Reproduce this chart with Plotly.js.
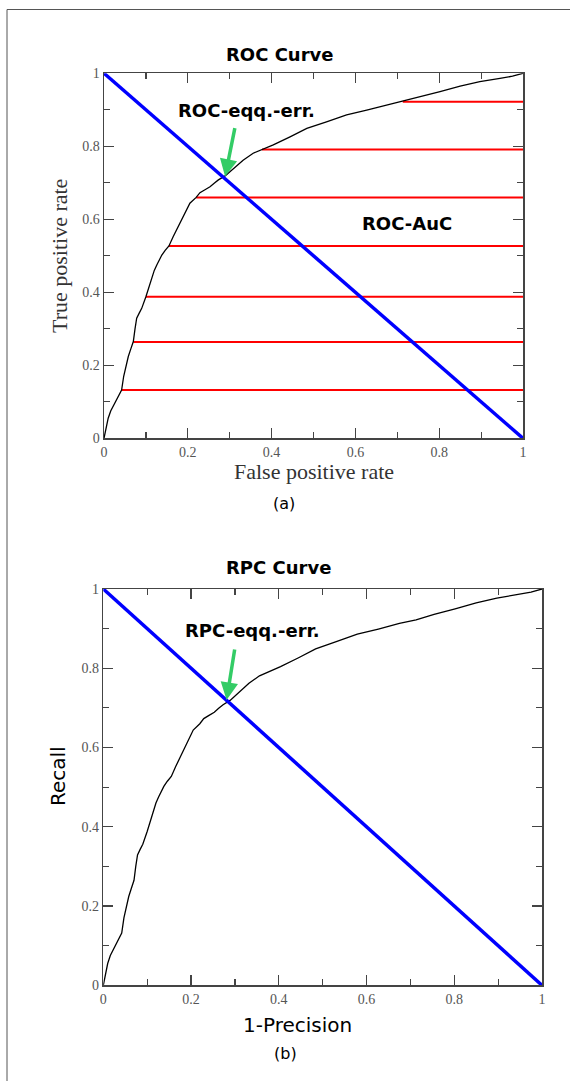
<!DOCTYPE html>
<html>
<head>
<meta charset="utf-8">
<script src="https://cdn.plot.ly/plotly-3.0.1.min.js"></script>
<style>
html,body{margin:0;padding:0;background:#fff;}
#chart{width:570px;height:1081px;}
</style>
</head>
<body>
<div id="chart"></div>
<script>
// ---- data ----
const curveX = [0, 0.004, 0.010, 0.016, 0.022, 0.028, 0.035, 0.042, 0.047, 0.052, 0.058, 0.064, 0.070, 0.074, 0.078, 0.084, 0.090, 0.100, 0.107, 0.114, 0.120, 0.126, 0.132, 0.138, 0.146, 0.155, 0.165, 0.173, 0.181, 0.193, 0.205, 0.220, 0.229, 0.241, 0.253, 0.263, 0.273, 0.289, 0.309, 0.332, 0.356, 0.379, 0.404, 0.444, 0.484, 0.531, 0.579, 0.627, 0.675, 0.713, 0.754, 0.802, 0.850, 0.897, 0.945, 0.975, 1.0];
const curveY = [0, 0.025, 0.055, 0.075, 0.088, 0.100, 0.115, 0.132, 0.170, 0.195, 0.224, 0.245, 0.265, 0.300, 0.329, 0.343, 0.356, 0.388, 0.415, 0.443, 0.460, 0.475, 0.490, 0.502, 0.515, 0.527, 0.552, 0.570, 0.589, 0.616, 0.644, 0.660, 0.673, 0.681, 0.689, 0.699, 0.708, 0.719, 0.740, 0.762, 0.781, 0.792, 0.804, 0.826, 0.849, 0.867, 0.886, 0.899, 0.913, 0.922, 0.936, 0.950, 0.965, 0.977, 0.986, 0.992, 1.0];
const rocX = curveX, rocY = curveY;   // ROC curve (a)
const rpcX = curveX, rpcY = curveY;   // RPC curve (b)
const aucLevels = [0.132, 0.264, 0.388, 0.527, 0.660, 0.791, 0.922];
const aucStartX = [0.042, 0.070, 0.100, 0.155, 0.220, 0.377, 0.713];
const diagX = [0, 1];
const diagY = [1, 0];
const rocEqErr = {tip:[0.289, 0.717], tail:[0.313, 0.854]};
const rpcEqErr = {tip:[0.281, 0.720], tail:[0.300, 0.851]};
const tickVals = [0, 0.2, 0.4, 0.6, 0.8, 1];
const tickText = ['0', '0.2', '0.4', '0.6', '0.8', '1'];

// ---- traces ----
const traces = [];
aucLevels.forEach((lv, i) => {
  traces.push({x:[aucStartX[i], 1], y:[lv, lv], xaxis:'x', yaxis:'y', mode:'lines',
    line:{color:'#ff0000', width:2}, hoverinfo:'skip', showlegend:false});
});
traces.push({x:rocX, y:rocY, xaxis:'x', yaxis:'y', mode:'lines',
  line:{color:'#000', width:1.3}, showlegend:false});
traces.push({x:diagX, y:diagY, xaxis:'x', yaxis:'y', mode:'lines',
  line:{color:'#0000ff', width:3.5}, showlegend:false});
traces.push({x:rpcX, y:rpcY, xaxis:'x2', yaxis:'y2', mode:'lines',
  line:{color:'#000', width:1.3}, showlegend:false});
traces.push({x:diagX, y:diagY, xaxis:'x2', yaxis:'y2', mode:'lines',
  line:{color:'#0000ff', width:3.5}, showlegend:false});

// ---- axes ----
const W = 570, H = 1081;
function px2x(p){ return p / W; }
function px2y(p){ return 1 - p / H; }
function axis(domain, anchor){
  return {domain:domain, anchor:anchor, range:[0,1], tickmode:'array', tickvals:tickVals, ticktext:tickText,
    ticks:'inside', ticklen:10, tickwidth:1.2, tickcolor:'#444',
    showline:true, linecolor:'#444', linewidth:1.5, mirror:'ticks',
    showgrid:false, zeroline:false, fixedrange:true,
    tickfont:{family:'Liberation Serif, serif', size:14, color:'#555'},
    ticklabelstandoff:0,
    minor:{tickvals:[0.1,0.3,0.5,0.7,0.9], ticks:'inside', ticklen:6, tickwidth:1.2, tickcolor:'#444', showgrid:false}};
}
const bold = {family:'DejaVu Sans, sans-serif', size:18, color:'#000', weight:'bold'};
const sans = {family:'DejaVu Sans, sans-serif', size:20, color:'#000'};
const serifX = {family:'Liberation Serif, serif', size:22, color:'#333'};
const serifY = {family:'Liberation Serif, serif', size:22, color:'#333'};
const small = {family:'DejaVu Sans, sans-serif', size:16, color:'#000'};

function note(text, xref, yref, x, y, font, extra){
  return Object.assign({text:text, xref:xref, yref:yref, x:x, y:y, showarrow:false, font:font,
    xanchor:'center', yanchor:'middle'}, extra || {});
}

const layout = {
  width:W, height:H, margin:{l:0, r:0, t:0, b:0},
  paper_bgcolor:'#fff', plot_bgcolor:'#fff', showlegend:false,
  xaxis: axis([px2x(104), px2x(523)], 'y'),
  yaxis: axis([px2y(438.3), px2y(73.3)], 'x'),
  xaxis2: axis([px2x(103.3), px2x(542)], 'y2'),
  yaxis2: axis([px2y(985.3), px2y(589)], 'x2'),
  shapes:[
    {type:'rect', xref:'paper', yref:'paper', x0:px2x(7), x1:1.05, y0:-0.05, y1:px2y(9.5),
     line:{color:'#555', width:1}, fillcolor:'rgba(0,0,0,0)', layer:'below'}
  ],
  annotations:[
    note('<b>ROC Curve</b>', 'paper', 'paper', px2x(279), px2y(54), bold),
    note('<b>ROC-eqq.-err.</b>', 'x', 'y', 0.340, 0.897, bold),
    note('<b>ROC-AuC</b>', 'x', 'y', 0.722, 0.589, bold),
    {text:'', xref:'x', yref:'y', axref:'x', ayref:'y', x:rocEqErr.tip[0], y:rocEqErr.tip[1],
     ax:rocEqErr.tail[0], ay:rocEqErr.tail[1], showarrow:true, arrowhead:2, arrowsize:1, arrowwidth:3.5, arrowcolor:'#33cc66'},
    note('False positive rate', 'paper', 'paper', px2x(314), px2y(471), serifX),
    note('True positive rate', 'paper', 'paper', px2x(60), px2y(256), serifY, {textangle:-90}),
    note('(a)', 'paper', 'paper', px2x(284), px2y(503), small),

    note('<b>RPC Curve</b>', 'paper', 'paper', px2x(278), px2y(567.5), bold),
    note('<b>RPC-eqq.-err.</b>', 'x2', 'y2', 0.341, 0.895, bold),
    {text:'', xref:'x2', yref:'y2', axref:'x2', ayref:'y2', x:rpcEqErr.tip[0], y:rpcEqErr.tip[1],
     ax:rpcEqErr.tail[0], ay:rpcEqErr.tail[1], showarrow:true, arrowhead:2, arrowsize:1, arrowwidth:3.5, arrowcolor:'#33cc66'},
    note('1-Precision', 'paper', 'paper', px2x(297), px2y(1025), sans),
    note('Recall', 'paper', 'paper', px2x(58), px2y(776), sans, {textangle:-90}),
    note('(b)', 'paper', 'paper', px2x(285), px2y(1053), small)
  ]
};

Plotly.newPlot('chart', traces, layout, {staticPlot:true, displayModeBar:false});
</script>
</body>
</html>
